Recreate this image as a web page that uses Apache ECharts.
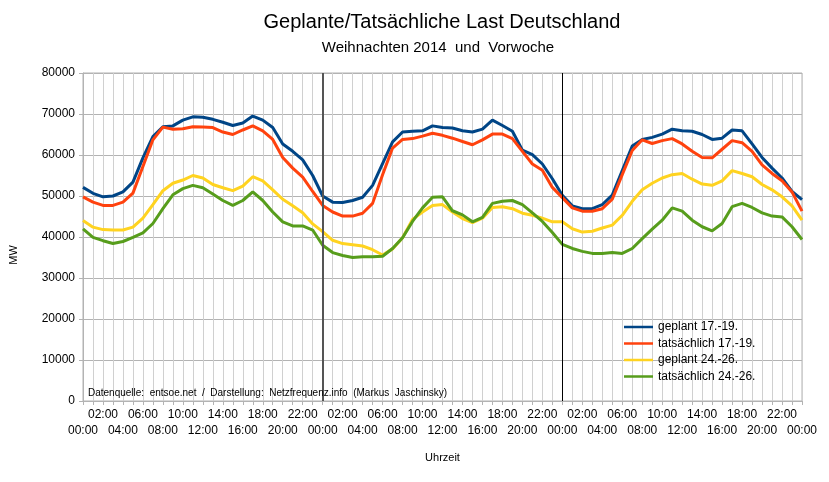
<!DOCTYPE html>
<html>
<head>
<meta charset="utf-8">
<script src="https://cdn.jsdelivr.net/npm/echarts@6/dist/echarts.min.js"></script>
<style>
  html, body { margin: 0; padding: 0; background: #fff; }
  #chart { width: 829px; height: 482px; }
</style>
</head>
<body>
<div id="chart"></div>
<script>
// hourly labels, three days plus the closing midnight
const dayHours = ["00:00", "01:00", "02:00", "03:00", "04:00", "05:00", "06:00", "07:00",
  "08:00", "09:00", "10:00", "11:00", "12:00", "13:00", "14:00", "15:00",
  "16:00", "17:00", "18:00", "19:00", "20:00", "21:00", "22:00", "23:00"];
const hours = [...dayHours, ...dayHours, ...dayHours, "00:00"];

const seriesNames = ["geplant 17.-19.", "tatsächlich 17.-19.", "geplant 24.-26.", "tatsächlich 24.-26."];

// MW
const geplant1719 = [
  52100, 50650, 49800, 50000, 51000, 53400, 59300, 64500, 66900, 67100, 68500, 69300,
  69200, 68700, 68000, 67200, 67800, 69500, 68500, 66700, 62700, 60900, 58800, 55000,
  50000, 48500, 48400, 48900, 49700, 52600, 57900, 63200, 65600, 65800, 65900, 67100,
  66700, 66600, 65900, 65600, 66300, 68500, 67200, 65800, 61200, 60100, 57800, 54200,
  50200, 47600, 46900, 46900, 47900, 50200, 56200, 62200, 63800, 64300, 65100, 66300,
  65900, 65800, 65000, 63800, 64100, 66100, 65900, 62700, 59400, 56800, 54400, 51100,
  49100];
const tatsaechlich1719 = [
  49800, 48500, 47700, 47700, 48500, 50700, 57200, 63700, 66800, 66300, 66400, 66900,
  66800, 66700, 65600, 65000, 66100, 67100, 65900, 63800, 59400, 56800, 54600, 51100,
  47700, 46100, 45100, 45100, 45800, 48200, 55200, 61700, 63800, 64000, 64600, 65300,
  64800, 64100, 63300, 62500, 63700, 65100, 65100, 64000, 60900, 57800, 56300, 52100,
  49600, 47100, 46300, 46300, 46900, 49200, 55200, 61100, 63700, 62800, 63500, 64000,
  62700, 60900, 59400, 59300, 61400, 63500, 63000, 60900, 57600, 55500, 53700, 51000,
  46300];
const geplant2426 = [
  44000, 42400, 41800, 41700, 41700, 42400, 44600, 47900, 51300, 53100, 53900, 55000,
  54400, 52800, 52000, 51300, 52400, 54700, 53700, 51500, 49200, 47600, 45900, 43200,
  41300, 39200, 38400, 38100, 37800, 36900, 35600, 37100, 39800, 44300, 46100, 47700,
  47900, 46100, 44500, 43500, 44600, 47200, 47400, 46900, 45800, 45300, 44600, 43700,
  43700, 42000, 41200, 41400, 42200, 42900, 45300, 48700, 51500, 53100, 54400, 55200,
  55500, 54100, 52900, 52600, 53700, 56200, 55500, 54700, 52800, 51500, 49800, 47600,
  44100];
const tatsaechlich2426 = [
  42000, 39900, 39100, 38400, 38900, 39900, 41000, 43300, 46900, 50300, 51800, 52600,
  52000, 50500, 48900, 47700, 48900, 51000, 48900, 46100, 43700, 42700, 42700, 41700,
  38000, 36200, 35500, 35000, 35200, 35200, 35300, 37200, 39800, 43800, 47100, 49700,
  49800, 46400, 45400, 43700, 44800, 48200, 48700, 48900, 47900, 45900, 43800, 41100,
  38200, 37200, 36500, 36000, 36000, 36200, 36000, 37200, 39600, 41900, 44100, 47100,
  46300, 44100, 42500, 41500, 43300, 47400, 48200, 47200, 45900, 45100, 44900, 42500,
  39400];

const colors = ["#004586", "#ff420e", "#ffd320", "#579d1c"];
const font = "Liberation Sans, Arial, sans-serif";

const chart = echarts.init(document.getElementById("chart"));

const lineSeries = (name, data, color) => ({
  name: name,
  type: "line",
  data: data,
  symbol: "none",
  lineStyle: { color: color, width: 3 },
  itemStyle: { color: color },
});

const series = [
  lineSeries(seriesNames[0], geplant1719, colors[0]),
  lineSeries(seriesNames[1], tatsaechlich1719, colors[1]),
  lineSeries(seriesNames[2], geplant2426, colors[2]),
  lineSeries(seriesNames[3], tatsaechlich2426, colors[3]),
];
// day separators
series[0].markLine = {
  silent: true,
  symbol: ["none", "none"],
  label: { show: false },
  data: [
    { xAxis: 24, lineStyle: { color: "#555", width: 2, type: "solid" } },
    { xAxis: 48, lineStyle: { color: "#000", width: 1, type: "solid" } },
  ],
};

const labelStyle = { fontSize: 12, color: "#000", margin: 8 };

chart.setOption({
  animation: false,
  textStyle: { fontFamily: font },
  grid: {
    left: 83, right: 27, top: 73, bottom: 81,
    show: true, borderColor: "#b3b3b3", borderWidth: 1,
  },
  legend: {
    orient: "vertical",
    left: 619,
    top: 315,
    icon: "rect",
    itemWidth: 29,
    itemHeight: 2.5,
    itemGap: 2.5,
    textStyle: { fontSize: 12, color: "#000", fontFamily: font, lineHeight: 14 },
    data: seriesNames,
  },
  xAxis: [
    {
      // upper label row (02:00, 06:00, ...) plus grid and ticks
      type: "category",
      boundaryGap: false,
      data: hours,
      name: "Uhrzeit",
      nameLocation: "middle",
      nameGap: 51,
      nameTextStyle: { fontSize: 11, color: "#000" },
      axisLine: { lineStyle: { color: "#b3b3b3" } },
      axisTick: { show: true, interval: 0, length: 4, lineStyle: { color: "#b3b3b3" } },
      axisLabel: { ...labelStyle, interval: (i) => i % 4 === 2 },
      splitLine: { show: true, interval: 0, lineStyle: { color: "#d0d0d0" } },
    },
    {
      // lower label row (00:00, 04:00, ...)
      type: "category",
      boundaryGap: false,
      data: hours,
      position: "bottom",
      offset: 16,
      axisLine: { show: false },
      axisTick: { show: false },
      splitLine: { show: false },
      axisLabel: { ...labelStyle, interval: (i) => i % 4 === 0 },
    },
  ],
  yAxis: {
    type: "value",
    min: 0,
    max: 80000,
    interval: 10000,
    axisLine: { show: true, lineStyle: { color: "#b3b3b3" } },
    axisTick: { show: true, length: 4, lineStyle: { color: "#b3b3b3" } },
    axisLabel: { ...labelStyle, formatter: (v) => String(v) },
    splitLine: { lineStyle: { color: "#b3b3b3" } },
  },
  graphic: [
    {
      type: "text", x: 442, y: 22,
      style: { text: "Geplante/Tatsächliche Last Deutschland", fontSize: 20, fontFamily: font,
        fill: "#000", align: "center", verticalAlign: "middle" },
    },
    {
      type: "text", x: 438, y: 48,
      style: { text: "Weihnachten 2014  und  Vorwoche", fontSize: 15, fontFamily: font,
        fill: "#000", align: "center", verticalAlign: "middle" },
    },
    {
      type: "text", x: 14, y: 255, rotation: Math.PI / 2,
      style: { text: "MW", fontSize: 11, fontFamily: font, fill: "#000",
        align: "center", verticalAlign: "middle" },
    },
    {
      type: "text", x: 88, y: 393, z: 10,
      style: { text: "Datenquelle:  entsoe.net  /  Darstellung:  Netzfrequenz.info  (Markus  Jaschinsky)",
        fontSize: 10, fontFamily: font, fill: "#000", align: "left", verticalAlign: "middle" },
    },
  ],
  series: series,
});
</script>
</body>
</html>
